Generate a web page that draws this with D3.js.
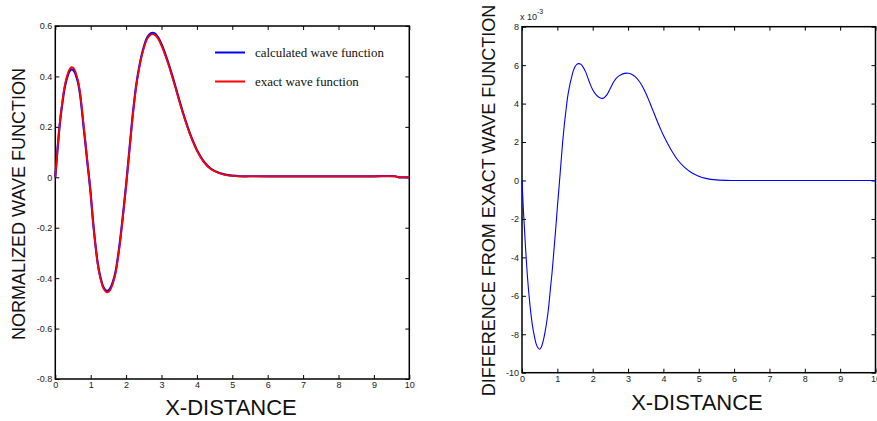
<!DOCTYPE html>
<html>
<head>
<meta charset="utf-8">
<script src="https://cdn.jsdelivr.net/npm/d3@7"></script>
<style>
  html, body { margin: 0; padding: 0; background: #fff; }
  svg { display: block; }
  .tick text { font-family: "Liberation Sans", Arial, sans-serif; font-size: 9px; fill: #222; }
</style>
</head>
<body>
<svg id="chart" width="877" height="421"></svg>
<script>
// Sample positions along the x-distance axis
const xDistance = [
  0, 0.05, 0.1, 0.15, 0.2, 0.25, 0.3, 0.35, 0.4, 0.45, 0.5, 0.55, 0.6, 0.65, 0.7, 0.75, 0.8, 0.85, 0.9, 0.95, 1.0,
  1.05, 1.1, 1.15, 1.2, 1.25, 1.3, 1.35, 1.4, 1.45, 1.5, 1.55, 1.6, 1.65, 1.7, 1.8, 1.9, 2.0,
  2.1, 2.2, 2.3, 2.4, 2.5, 2.6, 2.7, 2.8, 2.9, 3.0,
  3.1, 3.2, 3.3, 3.4, 3.5, 3.6, 3.7, 3.8, 3.9, 4.0,
  4.2, 4.4, 4.6, 4.8, 5.0, 5.2, 5.5, 6, 7, 8, 9, 9.6, 9.7, 10
];

// Exact normalized wave function
const exactWave = [
  0, 0.09, 0.175, 0.245, 0.30, 0.35, 0.385, 0.41, 0.428, 0.436, 0.435, 0.425, 0.405, 0.378, 0.335, 0.275, 0.205, 0.14, 0.07, 0.005, -0.065,
  -0.15, -0.225, -0.29, -0.345, -0.385, -0.415, -0.438, -0.45, -0.456, -0.455, -0.447, -0.432, -0.41, -0.382, -0.29, -0.17, -0.035,
  0.115, 0.26, 0.375, 0.455, 0.512, 0.55, 0.566, 0.566, 0.55, 0.522,
  0.486, 0.445, 0.40, 0.352, 0.303, 0.256, 0.212, 0.172, 0.137, 0.106,
  0.06, 0.032, 0.018, 0.01, 0.006, 0.004, 0.004, 0.004, 0.004, 0.004, 0.004, 0.004, 0, 0
];

// Difference of the calculated wave function from the exact one, in units of 1e-3
const differenceE3 = [
  0, -1.9, -3.5, -4.9, -6.0, -6.9, -7.6, -8.1, -8.5, -8.7, -8.78, -8.65, -8.35, -7.9, -7.35, -6.65, -5.7, -4.8, -3.7, -2.6, -1.4,
  -0.3, 0.85, 2.0, 2.95, 3.75, 4.45, 4.95, 5.35, 5.7, 5.92, 6.04, 6.08, 6.06, 5.98, 5.65, 5.15, 4.72,
  4.45, 4.3, 4.28, 4.45, 4.8, 5.15, 5.38, 5.5, 5.57, 5.58,
  5.53, 5.4, 5.2, 4.92, 4.55, 4.12, 3.66, 3.2, 2.76, 2.35,
  1.65, 1.08, 0.68, 0.4, 0.22, 0.11, 0.03, 0, 0, 0, 0, 0, 0, 0
];
const differenceExponent = -3;

// Calculated wave function = exact + difference
const calculatedWave = exactWave.map((v, i) => v + differenceE3[i] * Math.pow(10, differenceExponent));

// Axis ticks
const xTicks = [0, 1, 2, 3, 4, 5, 6, 7, 8, 9, 10];
const waveTicks = [-0.8, -0.6, -0.4, -0.2, 0, 0.2, 0.4, 0.6];
const diffTicks = [-10, -8, -6, -4, -2, 0, 2, 4, 6, 8];

const legendItems = [
  { label: "calculated wave function", color: "#0000ff" },
  { label: "exact wave function", color: "#ff0000" }
];

const svg = d3.select("#chart");
const fmt = d => String(d);

function drawPanel(opts) {
  const { x0, x1, y0, y1, yDomain, yTicks } = opts;
  const x = d3.scaleLinear().domain([0, 10]).range([x0, x1]);
  const y = d3.scaleLinear().domain(yDomain).range([y1, y0]);
  const g = svg.append("g");
  const tick = 4;

  g.append("g").attr("transform", `translate(0,${y1})`)
    .call(d3.axisBottom(x).tickValues(xTicks).tickFormat(fmt).tickSize(-tick).tickPadding(3))
    .call(a => a.select(".domain").remove());
  g.append("g").attr("transform", `translate(0,${y0})`)
    .call(d3.axisTop(x).tickValues(xTicks).tickFormat("").tickSize(-tick))
    .call(a => a.select(".domain").remove());
  g.append("g").attr("transform", `translate(${x0},0)`)
    .call(d3.axisLeft(y).tickValues(yTicks).tickFormat(fmt).tickSize(-tick).tickPadding(3))
    .call(a => a.select(".domain").remove());
  g.append("g").attr("transform", `translate(${x1},0)`)
    .call(d3.axisRight(y).tickValues(yTicks).tickFormat("").tickSize(-tick))
    .call(a => a.select(".domain").remove());
  g.selectAll(".tick line").attr("stroke", "#000").attr("stroke-width", 1);

  g.append("rect")
    .attr("x", x0).attr("y", y0)
    .attr("width", x1 - x0).attr("height", y1 - y0)
    .attr("fill", "none").attr("stroke", "#000").attr("stroke-width", 1.5);

  return { g, x, y };
}

const curve = d3.curveCatmullRom.alpha(0.5);

// Left panel: wave functions
const left = drawPanel({ x0: 55.3, x1: 409.3, y0: 26, y1: 379, yDomain: [-0.8, 0.6], yTicks: waveTicks });
const lineL = d3.line().x(d => left.x(d[0])).y(d => left.y(d[1])).curve(curve);
left.g.append("path")
  .datum(xDistance.map((xv, i) => [xv, calculatedWave[i]]))
  .attr("d", lineL).attr("fill", "none").attr("stroke", "#0000ff").attr("stroke-width", 2.2);
left.g.append("path")
  .datum(xDistance.map((xv, i) => [xv, exactWave[i]]))
  .attr("d", lineL).attr("fill", "none").attr("stroke", "#ff0000").attr("stroke-width", 1.8);

// Legend
const legend = left.g.append("g");
legendItems.forEach((item, i) => {
  const yy = 52.5 + i * 29;
  legend.append("line").attr("x1", 215).attr("x2", 245).attr("y1", yy).attr("y2", yy)
    .attr("stroke", item.color).attr("stroke-width", 2);
  legend.append("text").attr("x", 255).attr("y", yy + 4.3)
    .attr("font-family", "'Liberation Serif', 'Times New Roman', serif")
    .attr("font-size", 12.9).attr("fill", "#111").text(item.label);
});

left.g.append("text")
  .attr("transform", "translate(18.5,204) rotate(-90)")
  .attr("text-anchor", "middle").attr("dominant-baseline", "central")
  .attr("font-family", "'Liberation Sans', Arial, sans-serif").attr("font-size", 18)
  .attr("fill", "#111").text("NORMALIZED WAVE FUNCTION");
left.g.append("text")
  .attr("x", 231).attr("y", 415).attr("text-anchor", "middle")
  .attr("font-family", "'Liberation Sans', Arial, sans-serif").attr("font-size", 22)
  .attr("fill", "#111").text("X-DISTANCE");

// Right panel: difference from exact
const right = drawPanel({ x0: 522, x1: 875.5, y0: 26.7, y1: 372.7, yDomain: [-10, 8], yTicks: diffTicks });
const lineR = d3.line().x(d => right.x(d[0])).y(d => right.y(d[1])).curve(curve);
right.g.append("path")
  .datum(xDistance.map((xv, i) => [xv, differenceE3[i]]))
  .attr("d", lineR).attr("fill", "none").attr("stroke", "#0000ff").attr("stroke-width", 1.1);

const expLabel = right.g.append("text")
  .attr("x", 520).attr("y", 19.5)
  .attr("font-family", "'Liberation Sans', Arial, sans-serif").attr("font-size", 9).attr("fill", "#222");
expLabel.append("tspan").text("x 10");
expLabel.append("tspan").attr("dy", -6).attr("font-size", 7).text(String(differenceExponent));

right.g.append("text")
  .attr("transform", "translate(488.5,200.5) rotate(-90)")
  .attr("text-anchor", "middle").attr("dominant-baseline", "central")
  .attr("font-family", "'Liberation Sans', Arial, sans-serif").attr("font-size", 18)
  .attr("fill", "#111").text("DIFFERENCE FROM EXACT WAVE FUNCTION");
right.g.append("text")
  .attr("x", 697).attr("y", 410).attr("text-anchor", "middle")
  .attr("font-family", "'Liberation Sans', Arial, sans-serif").attr("font-size", 22)
  .attr("fill", "#111").text("X-DISTANCE");
</script>
</body>
</html>
